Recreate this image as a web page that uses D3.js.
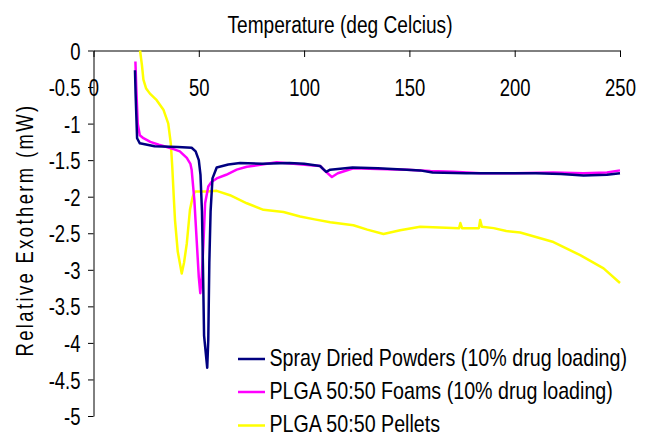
<!DOCTYPE html>
<html>
<head>
<meta charset="utf-8">
<script src="https://cdn.jsdelivr.net/npm/d3@7"></script>
<style>
  body { margin: 0; background: #fff; }
  text { font-family: "Liberation Sans", Arial, sans-serif; fill: #000; }
</style>
</head>
<body>
<svg id="svg" width="652" height="436"></svg>
<script>
// data: temperature (deg C) and relative exotherm (mW)
var sprayT = [19.7, 20.0, 20.7, 22.0, 29, 40, 46.6, 48.5, 50.0, 50.8, 51.5, 52.0, 52.5, 54.0, 54.5, 55.0, 55.6, 56.5, 58.5, 64, 69.6, 80, 93, 100, 107.6, 109, 110.5, 112.4, 116, 123, 135, 148.8, 155, 161, 177, 190, 210, 222, 232.7, 243.8, 250];
var sprayY = [-0.27, -0.6, -1.2, -1.27, -1.31, -1.32, -1.33, -1.38, -1.5, -1.7, -2.2, -3.0, -3.9, -4.34, -3.96, -2.9, -2.2, -1.75, -1.6, -1.56, -1.54, -1.55, -1.54, -1.55, -1.58, -1.62, -1.66, -1.63, -1.62, -1.6, -1.61, -1.63, -1.64, -1.67, -1.68, -1.68, -1.68, -1.69, -1.71, -1.70, -1.68];

var foamT = [19.9, 20.3, 21.0, 22.0, 23.7, 27, 31, 34.8, 38, 41, 44.3, 46.0, 46.6, 47.9, 49.0, 50.0, 50.7, 51.4, 52.2, 53.0, 54.5, 56, 58.5, 63, 68, 72.8, 80, 87, 95, 103, 107.6, 110, 113.2, 116, 123.4, 135, 148.8, 160, 171, 183.6, 200, 218.4, 232.7, 243.8, 250];
var foamY = [-0.15, -0.5, -1.0, -1.16, -1.2, -1.25, -1.29, -1.32, -1.35, -1.38, -1.47, -1.55, -1.63, -2.05, -2.6, -3.1, -3.32, -3.1, -2.64, -2.09, -1.86, -1.8, -1.75, -1.7, -1.63, -1.59, -1.56, -1.53, -1.55, -1.57, -1.58, -1.65, -1.73, -1.68, -1.61, -1.62, -1.63, -1.65, -1.66, -1.68, -1.68, -1.67, -1.68, -1.67, -1.64];

var pelletT = [22.1, 23.0, 23.7, 25, 26.8, 30, 33.2, 35.5, 36.7, 37.4, 38.2, 38.7, 40, 41.9, 43, 44.3, 45.8, 47.1, 48.2, 53.8, 58.5, 64.8, 72.8, 80.7, 90.2, 98.1, 105, 112.4, 123.4, 130, 137.7, 145.6, 155.1, 173.6, 174.2, 175.0, 183.0, 183.6, 184.4, 190, 196, 202.6, 218.4, 231.1, 242.2, 250];
var pelletY = [0, -0.2, -0.40, -0.52, -0.59, -0.68, -0.81, -1.0, -1.27, -1.59, -2.05, -2.32, -2.75, -3.05, -2.9, -2.64, -2.18, -2.0, -1.93, -1.93, -1.92, -1.98, -2.09, -2.18, -2.21, -2.27, -2.31, -2.35, -2.39, -2.45, -2.51, -2.46, -2.41, -2.43, -2.36, -2.43, -2.43, -2.32, -2.41, -2.43, -2.47, -2.49, -2.62, -2.80, -2.98, -3.18];

var seriesNames = ["Spray Dried Powders (10% drug loading)", "PLGA 50:50 Foams (10% drug loading)", "PLGA 50:50 Pellets"];
var seriesColors = ["#000080", "#ff00ff", "#ffff00"];
var xTicks = [0, 50, 100, 150, 200, 250];
var yTicks = [0, -0.5, -1, -1.5, -2, -2.5, -3, -3.5, -4, -4.5, -5];

var svg = d3.select("#svg");

var x = d3.scaleLinear()
    .domain([0, 250])
    .range([93.5, 620]);

var y = d3.scaleLinear()
    .domain([0, -5])
    .range([50.5, 416]);

// text in the picture is narrow and tall, so squeeze it sideways
function squeezed(sel, sx) {
  return sel.attr("transform", function() {
    var t = d3.select(this);
    return "translate(" + (+t.attr("data-x") || 0) + "," + (+t.attr("data-y") || 0) + ") scale(" + sx + ",1)";
  });
}

// x axis along the top (y = 0)
var gx = svg.append("g")
    .attr("transform", "translate(0," + y(0) + ")")
    .call(d3.axisBottom(x)
      .tickValues(xTicks)
      .tickSize(6.5)
      .tickSizeOuter(0)
      .tickFormat(d3.format("d")));

gx.selectAll("text")
    .attr("y", null)
    .attr("dy", null)
    .attr("data-y", 45.5)
    .attr("font-size", 24)
    .attr("font-family", null)
    .attr("text-anchor", "middle")
    .call(squeezed, 0.77);

// y axis
var gy = svg.append("g")
    .attr("transform", "translate(" + x(0) + ",0)")
    .call(d3.axisLeft(y)
      .tickValues(yTicks)
      .tickSize(5.5)
      .tickSizeOuter(0)
      .tickFormat(function(d) { return d; }));

gy.selectAll("text")
    .attr("x", null)
    .attr("dy", null)
    .attr("data-x", -13)
    .attr("data-y", 8.6)
    .attr("font-size", 24)
    .attr("font-family", null)
    .attr("text-anchor", "end")
    .call(squeezed, 0.77);

svg.selectAll(".domain, .tick line")
    .attr("stroke", "#000")
    .attr("stroke-width", 1);

// titles
svg.append("text")
    .attr("text-anchor", "middle")
    .attr("font-size", 23.3)
    .attr("data-x", 340)
    .attr("data-y", 33.3)
    .text("Temperature (deg Celcius)")
    .call(squeezed, 0.82);

svg.append("text")
    .attr("text-anchor", "middle")
    .attr("font-size", 23)
    .attr("letter-spacing", 3)
    .attr("transform", "translate(33,230) rotate(-90) scale(0.8,1)")
    .text("Relative Exotherm (mW)");

// series
var line = d3.line()
    .x(function(d) { return x(d[0]); })
    .y(function(d) { return y(d[1]); });

var series = [d3.zip(sprayT, sprayY), d3.zip(foamT, foamY), d3.zip(pelletT, pelletY)];

// yellow drawn first, spray on top
[2, 1, 0].forEach(function(i) {
  svg.append("path")
      .datum(series[i])
      .attr("fill", "none")
      .attr("stroke", seriesColors[i])
      .attr("stroke-width", 2.5)
      .attr("stroke-linejoin", "round")
      .attr("d", line);
});

// legend
var legend = svg.append("g");
var legendY = [359, 392, 425.5];

legend.selectAll("line")
    .data(seriesNames)
  .enter().append("line")
    .attr("x1", 238)
    .attr("x2", 265)
    .attr("y1", function(d, i) { return legendY[i]; })
    .attr("y2", function(d, i) { return legendY[i]; })
    .attr("stroke", function(d, i) { return seriesColors[i]; })
    .attr("stroke-width", 2.5);

legend.selectAll("text")
    .data(seriesNames)
  .enter().append("text")
    .attr("font-size", 24)
    .attr("data-x", 269.5)
    .attr("data-y", function(d, i) { return legendY[i] + 6.5; })
    .text(function(d) { return d; })
    .call(squeezed, 0.82);
</script>
</body>
</html>
